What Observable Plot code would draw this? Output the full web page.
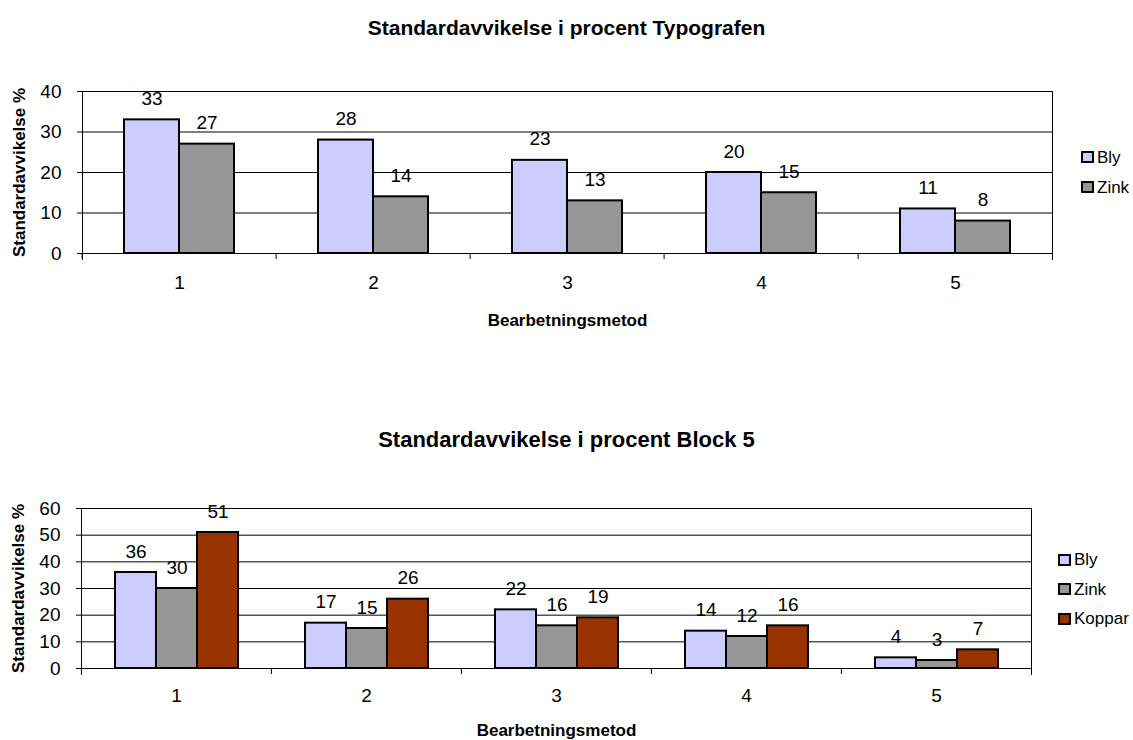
<!DOCTYPE html>
<html>
<head>
<meta charset="utf-8">
<script src="https://cdn.jsdelivr.net/npm/d3@7"></script>
<script src="https://cdn.jsdelivr.net/npm/@observablehq/plot@0.6"></script>
<style>
  html, body { margin: 0; padding: 0; background: #fff; }
  #page { position: relative; width: 1133px; height: 740px; font-family: "Liberation Sans", Arial, sans-serif; color: #000; overflow: hidden; }
  .panel { position: absolute; left: 0; width: 1133px; height: 370px; }
  .panel svg { display: block; }
  .title { position: absolute; left: 0; width: 1133px; text-align: center; font-weight: bold; line-height: 1; }
  .legend { position: absolute; font-size: 17px; line-height: 1; }
  .legend .item { display: flex; align-items: center; }
  .legend .sw { width: 9px; height: 8px; border: 2px solid #000; margin-right: 3px; }
</style>
</head>
<body>
<div id="page"></div>
<script>
// Treatment methods on the x axis
const methods = [1, 2, 3, 4, 5];
const yTicksTop = [0, 10, 20, 30, 40];
const yTicksBottom = [0, 10, 20, 30, 40, 50, 60];

// Standard deviation (%) — "Typografen"
const typoSeries = ["Bly", "Zink"];
const typoBly = [33, 28, 23, 20, 11];
const typoZink = [27, 14, 13, 15, 8];

// Standard deviation (%) — "Block 5"
const blockSeries = ["Bly", "Zink", "Koppar"];
const blockBly = [36, 17, 22, 14, 4];
const blockZink = [30, 15, 16, 12, 3];
const blockKoppar = [51, 26, 19, 16, 7];

const seriesColors = {Bly: "#ccccff", Zink: "#969696", Koppar: "#993300"};

function toRows(series, valueLists) {
  const rows = [];
  methods.forEach((m, i) => series.forEach((s, j) => rows.push({method: m, series: s, value: valueLists[j][i]})));
  return rows;
}

function chart({rows, series, yMax, yTicks, marginTop, marginBottom, marginRight, padOuter, catPad, labelOff}) {
  const width = 1133, marginLeft = 80;
  const step = (width - marginLeft - marginRight) / methods.length;
  return Plot.plot({
    width, height: 370, marginTop, marginBottom, marginLeft, marginRight,
    style: {fontFamily: "'Liberation Sans', Arial, sans-serif", fontSize: "19px", color: "#000", background: "#fff", overflow: "visible"},
    fx: {domain: methods, padding: 0},
    x: {domain: series, paddingInner: 0, paddingOuter: padOuter, axis: null},
    y: {domain: [0, yMax]},
    color: {domain: series, range: series.map(s => seriesColors[s])},
    marks: [
      Plot.ruleY(yTicks, {stroke: "#000", strokeWidth: 1}),
      Plot.frame({facet: "super", anchor: "left", stroke: "#000", insetBottom: -6}),
      Plot.frame({facet: "super", anchor: "right", stroke: "#000", insetBottom: -6}),
      Plot.axisFx({anchor: "bottom", tickSize: 6, tickFormat: () => "", label: null, dx: -step / 2}),
      Plot.axisFx({anchor: "bottom", tickSize: 0, tickPadding: catPad, fontSize: 19, label: null}),
      Plot.axisFx({anchor: "bottom", ticks: [], label: "Bearbetningsmetod", labelAnchor: "center", labelArrow: "none", labelOffset: labelOff, fontSize: 17, fontWeight: "bold"}),
      Plot.axisY({ticks: yTicks, tickSize: 5, tickPadding: 16, fontSize: 19, label: null}),
      Plot.axisY({ticks: [], label: "Standardavvikelse %", labelAnchor: "center", labelArrow: "none", labelOffset: 70, fontSize: 17, fontWeight: "bold"}),
      Plot.barY(rows, {fx: "method", x: "series", y: "value", fill: "series", stroke: "#000", strokeWidth: 2}),
      Plot.text(rows, {fx: "method", x: "series", y: "value", text: d => String(d.value), dy: -21, fontSize: 19})
    ]
  });
}

function legend(series, left, top, gap) {
  const el = document.createElement("div");
  el.className = "legend";
  el.style.left = left + "px";
  el.style.top = top + "px";
  series.forEach((s, i) => {
    const item = document.createElement("div");
    item.className = "item";
    item.style.height = gap + "px";
    const sw = document.createElement("span");
    sw.className = "sw";
    sw.style.background = seriesColors[s];
    const tx = document.createElement("span");
    tx.textContent = s;
    item.append(sw, tx);
    el.append(item);
  });
  return el;
}

function title(text, top, size) {
  const el = document.createElement("div");
  el.className = "title";
  el.style.top = top + "px";
  el.style.fontSize = size + "px";
  el.textContent = text;
  return el;
}

const page = document.getElementById("page");

const top1 = document.createElement("div");
top1.className = "panel";
top1.style.top = "0px";
top1.append(chart({
  rows: toRows(typoSeries, [typoBly, typoZink]), series: typoSeries,
  yMax: 40, yTicks: yTicksTop, marginTop: 91, marginBottom: 117, marginRight: 79,
  padOuter: 0.74, catPad: 22, labelOff: 72
}));
page.append(top1);
page.append(title("Standardavvikelse i procent Typografen", 17, 21));
page.append(legend(typoSeries, 1081, 142, 30));

const bot = document.createElement("div");
bot.className = "panel";
bot.style.top = "370px";
bot.append(chart({
  rows: toRows(blockSeries, [blockBly, blockZink, blockKoppar]), series: blockSeries,
  yMax: 60, yTicks: yTicksBottom, marginTop: 138, marginBottom: 72, marginRight: 102,
  padOuter: 0.764, catPad: 20, labelOff: 67
}));
page.append(bot);
page.append(title("Standardavvikelse i procent Block 5", 429, 22));
page.append(legend(blockSeries, 1058, 545, 29.5));
</script>
</body>
</html>
